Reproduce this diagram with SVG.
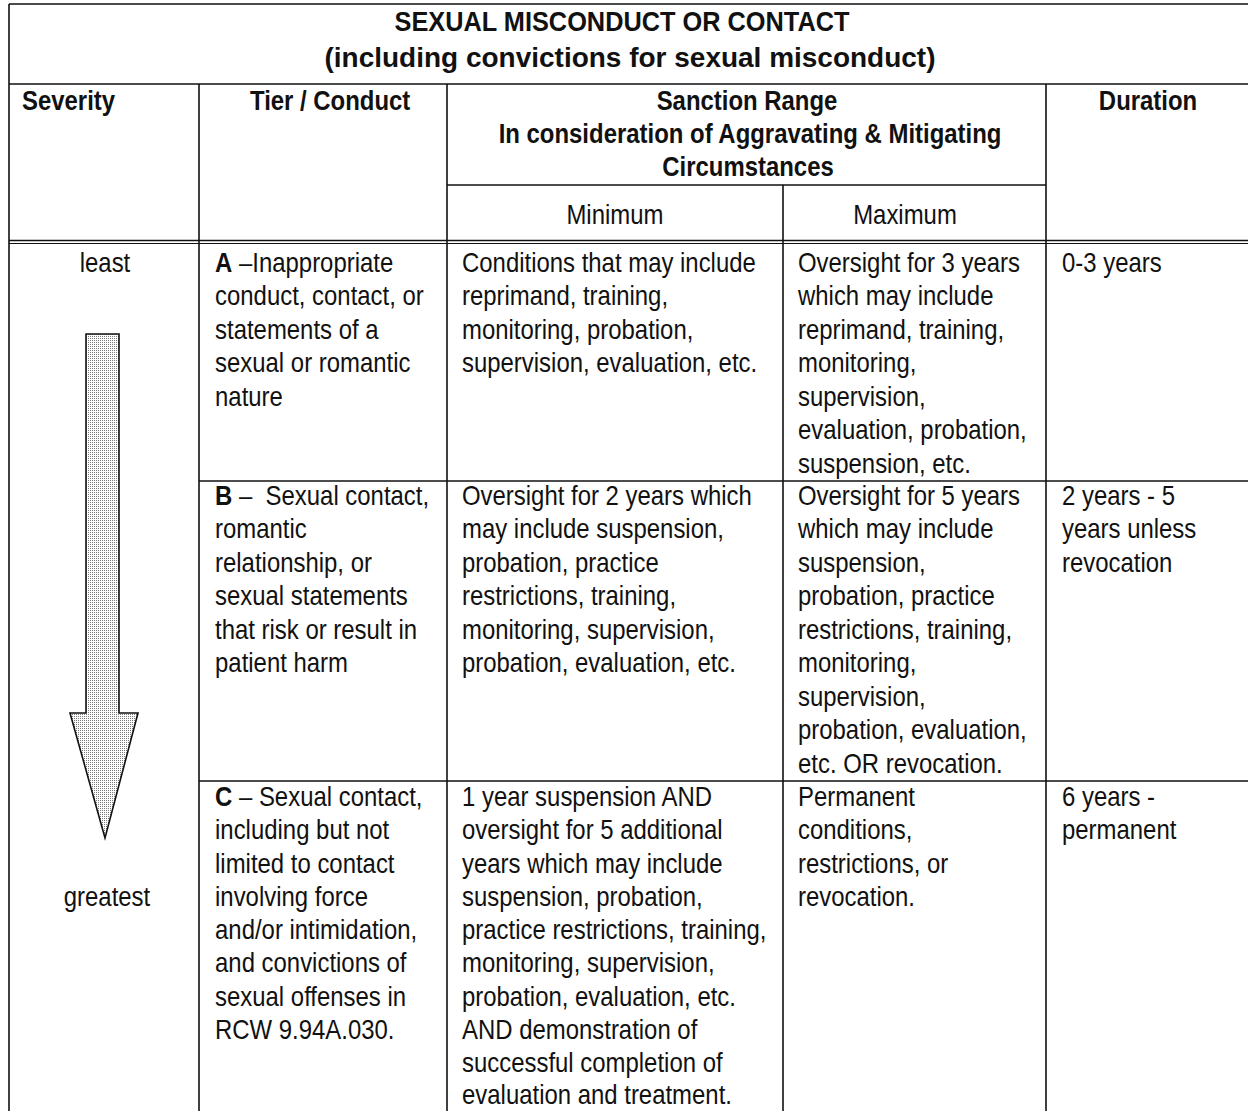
<svg xmlns="http://www.w3.org/2000/svg" width="1248" height="1111" viewBox="0 0 1248 1111">
<style>
.g line{stroke:#111;stroke-width:1.6}
.t{font-family:"Liberation Sans",Arial,sans-serif;font-size:28.5px;fill:#111}
.b{font-weight:bold}
.m{text-anchor:middle}
.h{font-family:"Liberation Sans",Arial,sans-serif;font-size:28.5px;font-weight:bold;fill:#111;text-anchor:middle}
</style>
<defs>
<pattern id="stip" width="2" height="2" patternUnits="userSpaceOnUse">
<rect width="2" height="2" fill="#fff"/>
<rect width="1" height="1" fill="#7a7a7a"/>
</pattern>
</defs>
<rect width="1248" height="1111" fill="#fff"/>
<g id="grid" class="g">
<line x1="9" y1="4" x2="1248" y2="4"/>
<line x1="9" y1="84" x2="1248" y2="84"/>
<line x1="447" y1="185" x2="1046" y2="185"/>
<line x1="9" y1="240.5" x2="1248" y2="240.5"/>
<line x1="9" y1="243.5" x2="1248" y2="243.5" style="stroke-width:1"/>
<line x1="199" y1="481" x2="1248" y2="481"/>
<line x1="199" y1="781" x2="1248" y2="781"/>
<line x1="9" y1="4" x2="9" y2="1111"/>
<line x1="199" y1="84" x2="199" y2="1111"/>
<line x1="447" y1="84" x2="447" y2="1111"/>
<line x1="783" y1="185" x2="783" y2="1111"/>
<line x1="1046" y1="84" x2="1046" y2="1111"/>
</g>
<g id="severity-arrow">
<polygon points="86,334 119,334 119,713 138,713 105,838 70,713 86,713" fill="url(#stip)" stroke="#111" stroke-width="1.6"/>
</g>
<g id="title">
<text class="h" x="622" y="31" textLength="455" lengthAdjust="spacingAndGlyphs">SEXUAL MISCONDUCT OR CONTACT</text>
<text class="h" x="630" y="67" textLength="611" lengthAdjust="spacingAndGlyphs">(including convictions for sexual misconduct)</text>
</g>
<g transform="scale(0.84,1)">
<g id="headers" class="t b">
<text x="26.2" y="110">Severity</text>
<text x="297.6" y="110">Tier / Conduct</text>
<text class="m" x="889.3" y="110">Sanction Range</text>
<text class="m" x="892.9" y="143">In consideration of Aggravating &amp; Mitigating</text>
<text class="m" x="890.5" y="176">Circumstances</text>
<text class="m" x="1366.7" y="110">Duration</text>
</g>
<g id="subheaders" class="t">
<text class="m" x="732.1" y="224">Minimum</text>
<text class="m" x="1077.4" y="224">Maximum</text>
</g>
<g id="severity-labels" class="t">
<text class="m" x="125" y="272">least</text>
<text class="m" x="127.4" y="906">greatest</text>
</g>
<g id="tier-a" class="t">
<text x="256" y="272"><tspan class="b">A</tspan> –Inappropriate</text>
<text x="256" y="305.5">conduct, contact, or</text>
<text x="256" y="339">statements of a</text>
<text x="256" y="372.5">sexual or romantic</text>
<text x="256" y="406">nature</text>
</g>
<g id="min-a" class="t">
<text x="550" y="272">Conditions that may include</text>
<text x="550" y="305.5">reprimand, training,</text>
<text x="550" y="339">monitoring, probation,</text>
<text x="550" y="372.5">supervision, evaluation, etc.</text>
</g>
<g id="max-a" class="t">
<text x="950" y="272">Oversight for 3 years</text>
<text x="950" y="305.5">which may include</text>
<text x="950" y="339">reprimand, training,</text>
<text x="950" y="372.5">monitoring,</text>
<text x="950" y="406">supervision,</text>
<text x="950" y="439.5">evaluation, probation,</text>
<text x="950" y="473">suspension, etc.</text>
</g>
<g id="dur-a" class="t">
<text x="1264.3" y="272">0-3 years</text>
</g>
<g id="tier-b" class="t">
<text x="256" y="505"><tspan class="b">B</tspan> –&#160; Sexual contact,</text>
<text x="256" y="538.5">romantic</text>
<text x="256" y="572">relationship, or</text>
<text x="256" y="605.5">sexual statements</text>
<text x="256" y="639">that risk or result in</text>
<text x="256" y="672.5">patient harm</text>
</g>
<g id="min-b" class="t">
<text x="550" y="505">Oversight for 2 years which</text>
<text x="550" y="538.5">may include suspension,</text>
<text x="550" y="572">probation, practice</text>
<text x="550" y="605.5">restrictions, training,</text>
<text x="550" y="639">monitoring, supervision,</text>
<text x="550" y="672.5">probation, evaluation, etc.</text>
</g>
<g id="max-b" class="t">
<text x="950" y="505">Oversight for 5 years</text>
<text x="950" y="538.5">which may include</text>
<text x="950" y="572">suspension,</text>
<text x="950" y="605.5">probation, practice</text>
<text x="950" y="639">restrictions, training,</text>
<text x="950" y="672.5">monitoring,</text>
<text x="950" y="706">supervision,</text>
<text x="950" y="739.5">probation, evaluation,</text>
<text x="950" y="773">etc. OR revocation.</text>
</g>
<g id="dur-b" class="t">
<text x="1264.3" y="505">2 years - 5</text>
<text x="1264.3" y="538.5">years unless</text>
<text x="1264.3" y="572">revocation</text>
</g>
<g id="tier-c" class="t">
<text x="256" y="806"><tspan class="b">C</tspan> – Sexual contact,</text>
<text x="256" y="839.3">including but not</text>
<text x="256" y="872.6">limited to contact</text>
<text x="256" y="906">involving force</text>
<text x="256" y="939.2">and/or intimidation,</text>
<text x="256" y="972.5">and convictions of</text>
<text x="256" y="1005.8">sexual offenses in</text>
<text x="256" y="1039.1">RCW 9.94A.030.</text>
</g>
<g id="min-c" class="t">
<text x="550" y="806">1 year suspension AND</text>
<text x="550" y="839.3">oversight for 5 additional</text>
<text x="550" y="872.6">years which may include</text>
<text x="550" y="906">suspension, probation,</text>
<text x="550" y="939.2">practice restrictions, training,</text>
<text x="550" y="972.5">monitoring, supervision,</text>
<text x="550" y="1005.8">probation, evaluation, etc.</text>
<text x="550" y="1039.1">AND demonstration of</text>
<text x="550" y="1072.4">successful completion of</text>
<text x="550" y="1104.5">evaluation and treatment.</text>
</g>
<g id="max-c" class="t">
<text x="950" y="806">Permanent</text>
<text x="950" y="839.3">conditions,</text>
<text x="950" y="872.6">restrictions, or</text>
<text x="950" y="906">revocation.</text>
</g>
<g id="dur-c" class="t">
<text x="1264.3" y="806">6 years -</text>
<text x="1264.3" y="839.3">permanent</text>
</g>
</g>
</svg>
